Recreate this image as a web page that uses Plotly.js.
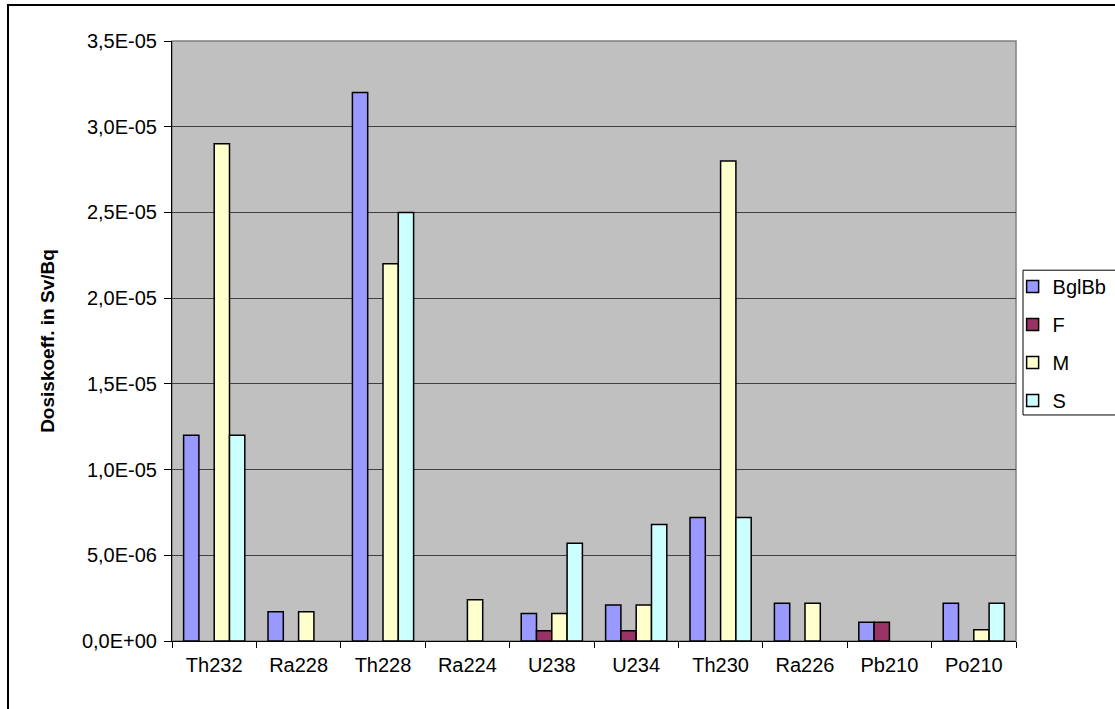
<!DOCTYPE html>
<html>
<head>
<meta charset="utf-8">
<script src="https://cdn.plot.ly/plotly-3.0.1.min.js"></script>
<style>
html,body{margin:0;padding:0;background:#fff;overflow:hidden;width:1115px;height:709px;}
#frame{position:absolute;left:7px;top:4px;width:1200px;height:800px;border:2px solid #000;box-sizing:border-box;}
#chart{position:absolute;left:0;top:0;width:1115px;height:709px;}
</style>
</head>
<body>
<div id="frame"></div>
<div id="chart"></div>
<script>
const categories = ['Th232','Ra228','Th228','Ra224','U238','U234','Th230','Ra226','Pb210','Po210'];
const BglBb = [1.2e-5, 1.7e-6, 3.2e-5, null, 1.6e-6, 2.1e-6, 7.2e-6, 2.2e-6, 1.1e-6, 2.2e-6];
const F     = [null, null, null, null, 6.0e-7, 6.0e-7, null, null, 1.1e-6, null];
const M     = [2.9e-5, 1.7e-6, 2.2e-5, 2.4e-6, 1.6e-6, 2.1e-6, 2.8e-5, 2.2e-6, null, 6.5e-7];
const S     = [1.2e-5, null, 2.5e-5, null, 5.7e-6, 6.8e-6, 7.2e-6, null, null, 2.2e-6];
const seriesNames = ['BglBb','F','M','S'];
const yTickVals = [0, 5e-6, 1e-5, 1.5e-5, 2e-5, 2.5e-5, 3e-5, 3.5e-5];
const yTickText = ['0,0E+00','5,0E-06','1,0E-05','1,5E-05','2,0E-05','2,5E-05','3,0E-05','3,5E-05'];

const colors = ['#9999FF','#993366','#FFFFCC','#CCFFFF'];
const seriesData = [BglBb, F, M, S];
const fam = '"Liberation Sans", Arial, sans-serif';
const font = {family:fam, size:20, color:'#000'};

const traces = seriesData.map((vals, i) => ({
  type:'bar', name: seriesNames[i], x: categories, y: vals,
  legendgroup: 'g'+i,
  marker:{color: colors[i], line:{color:'#000', width:1.5}},
  hoverinfo:'x+y+name'
}));

const layout = {
  width:1115, height:709,
  margin:{l:172, r:99, t:41, b:68, autoexpand:false},
  paper_bgcolor:'rgba(0,0,0,0)',
  plot_bgcolor:'#C0C0C0',
  font: font,
  barmode:'group', bargap:0.275, bargroupgap:0,
  showlegend:true,
  legend:{x:0.996, xanchor:'left', y:0.6233, yanchor:'top',
    bgcolor:'rgba(0,0,0,0)', borderwidth:0,
    font:font, tracegroupgap:9, traceorder:'grouped'},
  xaxis:{type:'category', tickson:'boundaries', ticks:'outside', ticklen:6,
    tickcolor:'#000', tickwidth:1, showline:true, linecolor:'#000', linewidth:1,
    ticklabelstandoff:6,
    showgrid:false, zeroline:false, tickfont:font, automargin:false},
  yaxis:{range:[0,3.5e-5], tickvals:yTickVals, ticktext:yTickText,
    ticks:'outside', ticklen:7, tickcolor:'#000', tickwidth:1,
    ticklabelstandoff:3,
    showline:true, linecolor:'#000', linewidth:1,
    showgrid:true, gridcolor:'#404040', gridwidth:1, zeroline:false,
    tickfont:font, automargin:false,
    title:{text:'<b>Dosiskoeff. in Sv/Bq</b>', font:{family:fam, size:19, color:'#000'}, standoff:22}},
  shapes:[
    {type:'rect', xref:'paper', yref:'paper', x0:0, x1:1, y0:0, y1:1,
     line:{color:'#808080', width:1.5}, layer:'below'},
    {type:'rect', xref:'paper', yref:'paper', x0:1.0083, x1:1.2, y0:0.3767, y1:0.618,
     fillcolor:'#fff', line:{color:'#000', width:1}, layer:'above'}
  ]
};

Plotly.newPlot('chart', traces, layout, {displayModeBar:false, staticPlot:true});
</script>
</body>
</html>
